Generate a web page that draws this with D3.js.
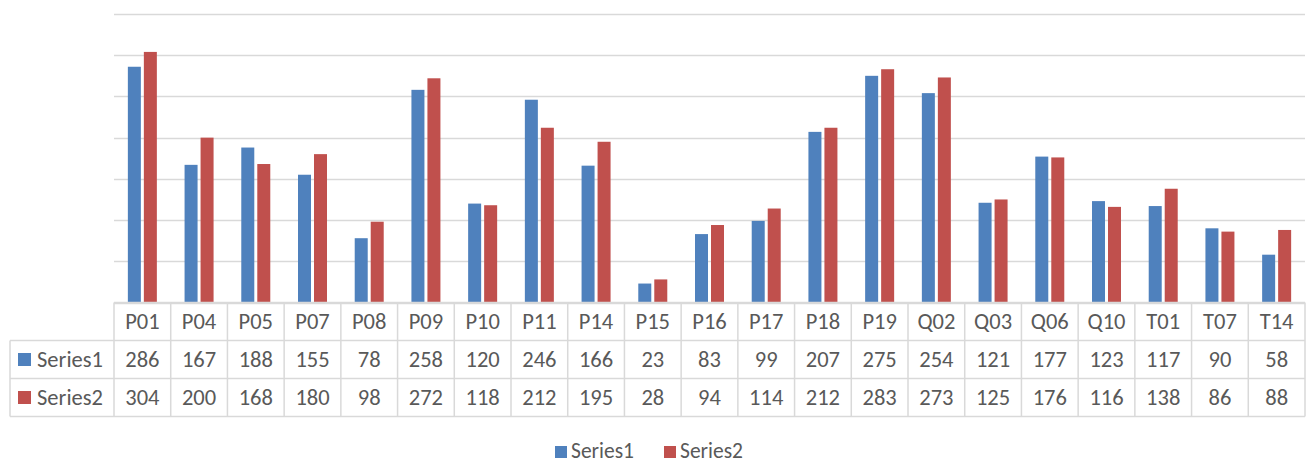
<!DOCTYPE html>
<html>
<head>
<meta charset="utf-8">
<script src="https://cdn.jsdelivr.net/npm/d3@7"></script>
<style>
  body { margin: 0; background: #fff; }
  svg { display: block; }
</style>
</head>
<body>
<div id="chart"></div>
<script>
// chart data
const categories = ["P01", "P04", "P05", "P07", "P08", "P09", "P10", "P11", "P14", "P15", "P16",
  "P17", "P18", "P19", "Q02", "Q03", "Q06", "Q10", "T01", "T07", "T14"];
const series1 = [286, 167, 188, 155, 78, 258, 120, 246, 166, 23, 83, 99, 207, 275, 254, 121, 177, 123, 117, 90, 58];
const series2 = [304, 200, 168, 180, 98, 272, 118, 212, 195, 28, 94, 114, 212, 283, 273, 125, 176, 116, 138, 86, 88];
const seriesNames = ["Series1", "Series2"];
const yTicks = [0, 50, 100, 150, 200, 250, 300, 350];

const width = 1309,
  height = 464,
  left = 114, // plot left / table first column
  right = 1305,
  tableLeft = 10,
  plotTop = 14,
  plotBottom = 302.5,
  rowH = 38,
  fontFamily = "Carlito, Calibri, Lato, sans-serif",
  textColor = "#595959",
  gridColor = "#d9d9d9",
  colors = ["#4f81bd", "#c0504d"];

const seriesData = [series1, series2];

const svg = d3
  .select("#chart")
  .append("svg")
  .attr("width", width)
  .attr("height", height)
  .attr("font-family", fontFamily)
  .attr("fill", textColor);

const x = d3.scaleBand().domain(categories).range([left, right]);
const y = d3.scaleLinear().domain([0, 350]).range([plotBottom, plotTop]);

// gridlines
svg
  .append("g")
  .selectAll("line")
  .data(yTicks)
  .join("line")
  .attr("x1", left)
  .attr("x2", right)
  .attr("y1", (d) => Math.round(y(d)) + 0.5)
  .attr("y2", (d) => Math.round(y(d)) + 0.5)
  .attr("stroke", gridColor)
  .attr("stroke-width", 1.5);

// bars
const barW = 13, barGap = 3;
seriesData.forEach((vals, si) => {
  svg
    .append("g")
    .attr("fill", colors[si])
    .selectAll("rect")
    .data(vals)
    .join("rect")
    .attr("x", (d, i) => x(categories[i]) + x.bandwidth() / 2 - barW - barGap / 2 + si * (barW + barGap))
    .attr("y", (d) => y(d))
    .attr("width", barW)
    .attr("height", (d) => plotBottom - y(d));
});

// data table
const table = svg.append("g").attr("stroke", gridColor).attr("stroke-width", 1.5).attr("fill", "none");
const rowsY = [plotBottom, plotBottom + rowH, plotBottom + 2 * rowH, plotBottom + 3 * rowH];
// horizontal lines
table.append("line").attr("x1", left).attr("x2", right).attr("y1", rowsY[0]).attr("y2", rowsY[0]);
rowsY.slice(1).forEach((ry) => {
  table.append("line").attr("x1", tableLeft).attr("x2", right).attr("y1", ry).attr("y2", ry);
});
// vertical lines
table.append("line").attr("x1", tableLeft).attr("x2", tableLeft).attr("y1", rowsY[1]).attr("y2", rowsY[3]);
categories.concat([null]).forEach((c, i) => {
  const vx = c ? x(c) : right;
  table.append("line").attr("x1", vx).attr("x2", vx).attr("y1", rowsY[0]).attr("y2", rowsY[3]);
});

const fs = 22.5;
svg
  .append("g")
  .attr("font-size", fs)
  .attr("text-anchor", "middle")
  .selectAll("text")
  .data(categories)
  .join("text")
  .attr("x", (d) => x(d) + x.bandwidth() / 2)
  .attr("y", rowsY[0] + rowH / 2)
  .attr("dy", "0.35em")
  .text((d) => d);

seriesData.forEach((vals, si) => {
  const ry = rowsY[si + 1] + rowH / 2;
  svg
    .append("g")
    .attr("font-size", fs)
    .attr("text-anchor", "middle")
    .selectAll("text")
    .data(vals)
    .join("text")
    .attr("x", (d, i) => x(categories[i]) + x.bandwidth() / 2)
    .attr("y", ry)
    .attr("dy", "0.35em")
    .text((d) => d);
  svg.append("rect")
    .attr("x", 18).attr("y", ry - 6.5)
    .attr("width", 13).attr("height", 13)
    .attr("fill", colors[si]);
  svg.append("text")
    .attr("x", 37).attr("y", ry)
    .attr("dy", "0.35em")
    .attr("font-size", fs)
    .text(seriesNames[si]);
});

// legend
const legend = svg.append("g").attr("font-size", 21.5);
const legendX = [555, 664];
seriesNames.forEach((name, si) => {
  legend.append("rect")
    .attr("x", legendX[si]).attr("y", 446)
    .attr("width", 12).attr("height", 12)
    .attr("fill", colors[si]);
  legend.append("text")
    .attr("x", legendX[si] + 16).attr("y", 458)
    .text(name);
});
</script>
</body>
</html>
